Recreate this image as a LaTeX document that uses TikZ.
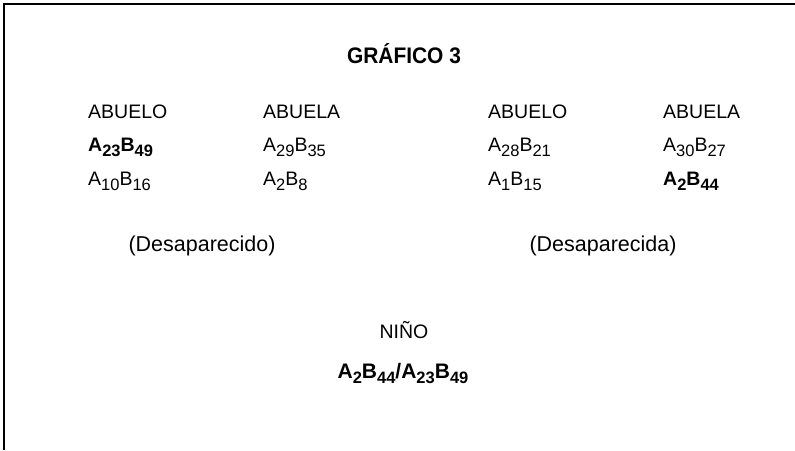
\documentclass[tikz,border=0pt]{standalone}
\usepackage{fontspec}
\setmainfont{Liberation Sans}
\newfontfamily\titlefont[FakeStretch=0.93]{Liberation Sans}
\newcommand{\mysb}[1]{\raisebox{-5pt}{\fontsize{16.5}{18}\selectfont #1}}
\tikzset{
  txt/.style={inner sep=0pt, font=\fontsize{19.5}{22}\selectfont},
  col/.style={txt, anchor=base west},
  ctr/.style={txt, anchor=base},
  frame/.style={line width=1.4pt, black}
}
\begin{document}
\begin{tikzpicture}[x=1pt,y=-1pt]
\useasboundingbox (0,0) rectangle (795,450);
\coordinate (tl) at (4,4);
\coordinate (tr) at (795,4);
\coordinate (bl) at (4,450);
\draw[frame] (tr) -- (tl) -- (bl);
\node[ctr, font=\fontsize{22.5}{24}\selectfont\titlefont\bfseries] (title) at (404,63) {GRÁFICO 3};
% left family
\node[col] (l1) at (88,118) {ABUELO};
\node[col] (l2) at (263,118) {ABUELA};
\node[col] (l3) at (88,151) {\bfseries A\mysb{23}B\mysb{49}};
\node[col] (l4) at (263,151) {A\mysb{29}B\mysb{35}};
\node[col] (l5) at (88,185) {A\mysb{10}B\mysb{16}};
\node[col] (l6) at (263,185) {A\mysb{2}B\mysb{8}};
\node[ctr, font=\fontsize{21.5}{24}\selectfont] (ld) at (202,251) {(Desaparecido)};
% right family
\node[col] (r1) at (488,118) {ABUELO};
\node[col] (r2) at (663,118) {ABUELA};
\node[col] (r3) at (488,151) {A\mysb{28}B\mysb{21}};
\node[col] (r4) at (663,151) {A\mysb{30}B\mysb{27}};
\node[col] (r5) at (488,185) {A\mysb{1}B\mysb{15}};
\node[col] (r6) at (663,185) {\bfseries A\mysb{2}B\mysb{44}};
\node[ctr, font=\fontsize{21.5}{24}\selectfont] (rd) at (603,251) {(Desaparecida)};
% child
\node[ctr] (n1) at (404,338) {NIÑO};
\node[ctr, font=\fontsize{21}{24}\selectfont\bfseries] (n2) at (403,378) {A\mysb{2}B\mysb{44}/A\mysb{23}B\mysb{49}};
\end{tikzpicture}
\end{document}
